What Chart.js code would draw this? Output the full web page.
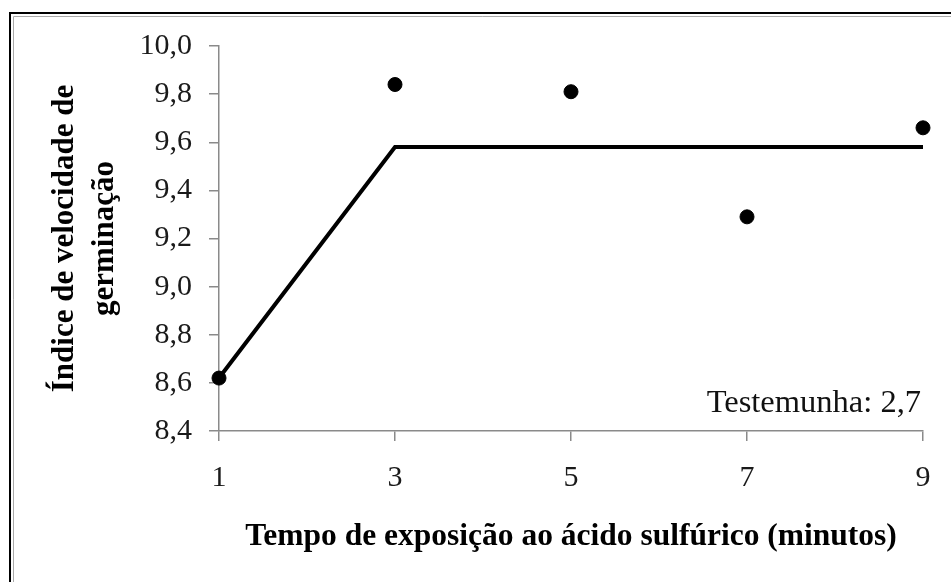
<!DOCTYPE html>
<html>
<head>
<meta charset="utf-8">
<script src="https://cdn.jsdelivr.net/npm/chart.js@4"></script>
<style>
  html, body { margin: 0; padding: 0; background: #fff; }
  canvas { display: block; }
</style>
</head>
<body>
<canvas id="grafico" width="951" height="582"></canvas>
<script>
// dados
const tempos = [1, 3, 5, 7, 9];
const indiceObservado = [8.62, 9.84, 9.81, 9.29, 9.66];
const temposModelo = [1, 3, 9];
const indiceModelo = [8.62, 9.58, 9.58];
const ticksY = [8.4, 8.6, 8.8, 9.0, 9.2, 9.4, 9.6, 9.8, 10.0];
const ticksX = [1, 3, 5, 7, 9];
const notaTestemunha = 'Testemunha: 2,7';

const serif = '"Liberation Serif", "Times New Roman", serif';

// moldura do quadro (só topo e esquerda, a imagem original é cortada)
const moldura = {
    id: 'moldura',
    beforeDraw(chart) {
        const ctx = chart.ctx;
        ctx.save();
        ctx.fillStyle = '#fff';
        ctx.fillRect(0, 0, chart.width, chart.height);
        ctx.strokeStyle = '#000';
        ctx.lineWidth = 2;
        ctx.beginPath();
        ctx.moveTo(10, 582);
        ctx.lineTo(10, 13);
        ctx.lineTo(951, 13);
        ctx.stroke();
        ctx.strokeStyle = '#aaa';
        ctx.lineWidth = 1;
        ctx.beginPath();
        ctx.moveTo(13.5, 582);
        ctx.lineTo(13.5, 16.5);
        ctx.lineTo(951, 16.5);
        ctx.stroke();
        ctx.restore();
    },
    afterDraw(chart) {
        const ctx = chart.ctx;
        const area = chart.chartArea;
        ctx.save();
        ctx.font = '32.5px ' + serif;
        ctx.fillStyle = '#111';
        ctx.textAlign = 'right';
        ctx.textBaseline = 'middle';
        ctx.fillText(notaTestemunha, area.right - 2, area.bottom - 28);
        ctx.restore();
    }
};

const ctx = document.getElementById('grafico').getContext('2d');
new Chart(ctx, {
    type: 'scatter',
    data: {
        datasets: [
            {
                type: 'line',
                data: temposModelo.map((x, i) => ({ x: x, y: indiceModelo[i] })),
                borderColor: '#000',
                borderWidth: 4,
                pointRadius: 0,
                fill: false,
                tension: 0,
                clip: false
            },
            {
                data: tempos.map((x, i) => ({ x: x, y: indiceObservado[i] })),
                backgroundColor: '#000',
                borderColor: '#000',
                pointRadius: 7,
                pointHoverRadius: 7,
                clip: false
            }
        ]
    },
    options: {
        responsive: false,
        animation: false,
        devicePixelRatio: 1,
        layout: { padding: { top: 46, right: 28, left: 0, bottom: 0 } },
        plugins: {
            legend: { display: false },
            tooltip: { enabled: false }
        },
        scales: {
            x: {
                type: 'linear',
                min: 1,
                max: 9,
                afterFit: s => { s.height = 151; },
                afterBuildTicks: s => { s.ticks = ticksX.map(v => ({ value: v })); },
                border: { display: true, color: '#8a8a8a', width: 1.5 },
                grid: { drawOnChartArea: false, drawTicks: true, tickLength: 10, color: '#8a8a8a', lineWidth: 1.5 },
                ticks: {
                    color: '#1a1a1a',
                    padding: 19,
                    font: { family: serif, size: 30 },
                    callback: v => String(v)
                },
                title: {
                    display: true,
                    text: 'Tempo de exposição ao ácido sulfúrico (minutos)',
                    color: '#000',
                    font: { family: serif, size: 31.5, weight: 'bold' },
                    padding: { top: 0, bottom: 26 }
                }
            },
            y: {
                min: 8.4,
                max: 10.0,
                afterFit: s => { s.width = 219; },
                afterBuildTicks: s => { s.ticks = ticksY.map(v => ({ value: v })); },
                border: { display: true, color: '#8a8a8a', width: 1.5 },
                grid: { drawOnChartArea: false, drawTicks: true, tickLength: 10, color: '#8a8a8a', lineWidth: 1.5 },
                ticks: {
                    color: '#1a1a1a',
                    padding: 17,
                    font: { family: serif, size: 30 },
                    callback: v => v.toFixed(1).replace('.', ',')
                },
                title: {
                    display: true,
                    text: ['Índice de velocidade de', 'germinação'],
                    color: '#000',
                    font: { family: serif, size: 31, weight: 'bold', lineHeight: '40px' },
                    padding: { top: 45, bottom: 0 }
                }
            }
        }
    },
    plugins: [moldura]
});
</script>
</body>
</html>
